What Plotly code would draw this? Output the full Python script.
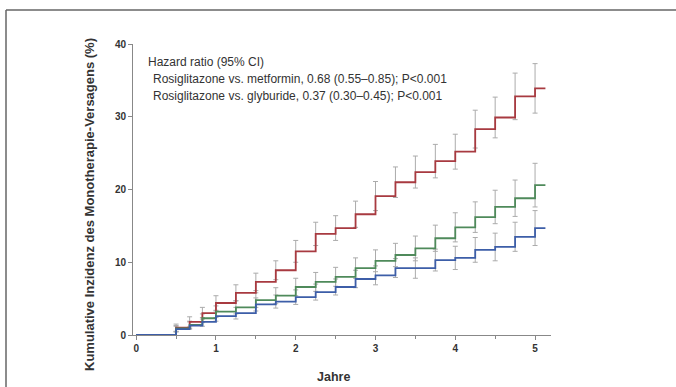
import plotly.graph_objects as go

# ---- data ----
times = [0, 0.5, 0.67, 0.83, 1.0, 1.25, 1.5, 1.75, 2.0, 2.25, 2.5, 2.75,
         3.0, 3.25, 3.5, 3.75, 4.0, 4.25, 4.5, 4.75, 5.0]
t_end = 5.13

glyburide = [0, 1.0, 1.8, 3.0, 4.4, 5.8, 7.3, 8.9, 11.5, 13.9, 14.7, 16.6,
             19.1, 21.0, 22.4, 23.9, 25.2, 28.3, 29.9, 32.8, 33.9]
metformin = [0, 0.9, 1.4, 2.3, 3.2, 3.8, 4.8, 5.4, 6.6, 7.3, 8.0, 9.2,
             10.2, 11.0, 11.9, 13.3, 14.8, 16.2, 17.6, 18.8, 20.6]
rosiglitazone = [0, 0.8, 1.3, 1.8, 2.6, 3.0, 4.2, 4.6, 5.2, 5.9, 6.6, 7.7,
                 8.2, 9.2, 9.2, 10.3, 10.6, 11.7, 12.1, 13.5, 14.7]

glyburide_err = [0, 0.5, 0.7, 0.8, 1.0, 1.1, 1.2, 1.3, 1.5, 1.6, 1.7, 1.8,
                 2.0, 2.1, 2.2, 2.3, 2.4, 2.6, 2.8, 3.2, 3.4]
metformin_err = [0, 0.4, 0.5, 0.6, 0.8, 0.9, 1.0, 1.1, 1.2, 1.3, 1.3, 1.4,
                 1.5, 1.6, 1.7, 1.8, 2.0, 2.1, 2.3, 2.5, 3.0]
rosiglitazone_err = [0, 0.4, 0.5, 0.6, 0.7, 0.8, 0.9, 0.9, 1.0, 1.1, 1.1, 1.2,
                     1.3, 1.3, 1.4, 1.5, 1.6, 1.7, 1.9, 2.0, 2.4]

series_names = ["Glyburide", "Metformin", "Rosiglitazone"]
x_ticks = [0, 1, 2, 3, 4, 5]
y_ticks = [0, 10, 20, 30, 40]

hr_lines = ["Hazard ratio (95% CI)",
            "Rosiglitazone vs. metformin, 0.68 (0.55\u20130.85); P<0.001",
            "Rosiglitazone vs. glyburide, 0.37 (0.30\u20130.45); P<0.001"]

colors = ["#a83a40", "#4f8a5b", "#3d5ea8"]
FONT = "Liberation Sans, Arial, sans-serif"

W, H = 676, 387
L, R, T, B = 133, 125, 44, 52
PW, PH = W - L - R, H - T - B


def px(x):
    return (x - L) / PW


def py(y):
    return (H - B - y) / PH


fig = go.Figure()

all_vals = [glyburide, metformin, rosiglitazone]
all_err = [glyburide_err, metformin_err, rosiglitazone_err]

# error bars first (below lines)
for vals, err, c in zip(all_vals, all_err, colors):
    fig.add_trace(go.Scatter(
        x=times[1:], y=vals[1:], mode="markers",
        marker=dict(size=1, color="rgba(0,0,0,0)"),
        error_y=dict(type="data", array=err[1:], visible=True,
                     color="#ababab", thickness=1, width=2.5),
        showlegend=False, hoverinfo="skip", cliponaxis=False))

for vals, c, name in zip(all_vals, colors, series_names):
    fig.add_trace(go.Scatter(
        x=times + [t_end], y=vals + [vals[-1]], mode="lines",
        line=dict(color=c, width=1.8, shape="hv"),
        name=name, showlegend=False, cliponaxis=False))

annotations = []
for vals, name in zip(all_vals, series_names):
    annotations.append(dict(x=t_end + 0.1, y=vals[-1], xref="x", yref="y",
                            text=name, showarrow=False, xanchor="left",
                            yanchor="middle",
                            font=dict(size=10.5, color="#333", family=FONT)))

hr_pos = [(146, 62), (151, 79), (151, 96)]
for txt, (xx, yy) in zip(hr_lines, hr_pos):
    annotations.append(dict(x=px(xx), y=py(yy), xref="paper", yref="paper",
                            text=txt, showarrow=False, xanchor="left",
                            yanchor="middle",
                            font=dict(size=12, color="#333", family=FONT)))

annotations.append(dict(x=px(89), y=py(205), xref="paper", yref="paper",
                        text="<b>Kumulative Inzidenz des Monotherapie-Versagens (%)</b>",
                        textangle=-90, showarrow=False, xanchor="center",
                        yanchor="middle",
                        font=dict(size=13, color="#333", family=FONT)))
annotations.append(dict(x=px(333), y=py(377), xref="paper", yref="paper",
                        text="<b>Jahre</b>", showarrow=False, xanchor="center",
                        yanchor="middle",
                        font=dict(size=12.5, color="#333", family=FONT)))

shapes = [
    dict(type="line", xref="paper", yref="paper", x0=px(6), x1=px(676),
         y0=py(10), y1=py(10), line=dict(color="#666", width=1.5)),
    dict(type="line", xref="paper", yref="paper", x0=px(6), x1=px(6),
         y0=py(10), y1=py(387), line=dict(color="#666", width=1.5)),
]

fig.update_layout(
    width=W, height=H,
    margin=dict(l=L, r=R, t=T, b=B),
    paper_bgcolor="white", plot_bgcolor="white",
    font=dict(family=FONT, color="#333"),
    annotations=annotations, shapes=shapes,
    xaxis=dict(range=[-0.04, 5.2], tickvals=x_ticks,
               ticktext=["<b>%d</b>" % v for v in x_ticks],
               showgrid=False, zeroline=False, showline=True,
               linecolor="#888", linewidth=1, ticks="outside",
               ticklen=4, tickcolor="#888",
               tickfont=dict(size=10, color="#333", family=FONT),
               minor=dict(tickvals=[0.5, 1.5, 2.5, 3.5, 4.5], ticks="outside",
                          ticklen=3, tickcolor="#888")),
    yaxis=dict(range=[0, 40], tickvals=y_ticks,
               ticktext=["<b>%d</b>" % v for v in y_ticks],
               showgrid=False, zeroline=False, showline=True,
               linecolor="#888", linewidth=1, ticks="outside",
               ticklen=4, tickcolor="#888",
               tickfont=dict(size=10, color="#333", family=FONT)),
)

fig.write_html("out.html", config={"displayModeBar": False},
               post_script="document.body.style.margin='0';")
